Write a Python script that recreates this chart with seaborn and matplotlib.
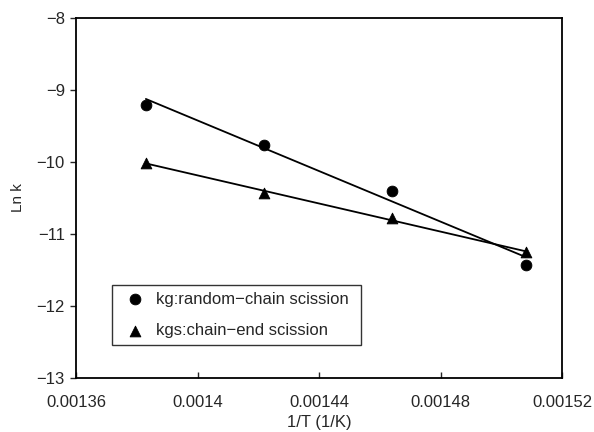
import matplotlib
matplotlib.use("Agg")
import matplotlib.pyplot as plt
import seaborn as sns
import numpy as np

inv_T = [0.001383, 0.001422, 0.001464, 0.001508]
ln_kg = [-9.21, -9.76, -10.40, -11.43]
ln_kgs = [-10.01, -10.43, -10.78, -11.25]
label_kg = "kg:random\u2212chain scission"
label_kgs = "kgs:chain\u2212end scission"
xticks = [0.00136, 0.0014, 0.00144, 0.00148, 0.00152]
xticklabels = ["0.00136", "0.0014", "0.00144", "0.00148", "0.00152"]
yticks = [-13, -12, -11, -10, -9, -8]

sns.set_style("white")
plt.rcParams['font.family'] = ['Liberation Sans', 'DejaVu Sans']

fig = plt.figure(figsize=(5.94, 4.32), dpi=100)
ax = fig.add_axes([76/594, 1 - 378/432, (562-76)/594, (378-18)/432])

for y, mk, lab in [(ln_kg, 'o', label_kg), (ln_kgs, '^', label_kgs)]:
    sns.regplot(x=np.array(inv_T), y=np.array(y), ax=ax, ci=None, truncate=True,
                scatter=False, line_kws=dict(color='black', lw=1.3))
    sns.scatterplot(x=inv_T, y=y, ax=ax, marker=mk, s=60, color='black',
                    edgecolor='black', label=lab)

ax.set_xlim(0.00136, 0.00152)
ax.set_ylim(-13, -8)
ax.set_xticks(xticks)
ax.set_xticklabels(xticklabels)
ax.set_yticks(yticks)
ax.set_yticklabels([f"\u2212{abs(v)}" for v in yticks])
ax.tick_params(axis='x', direction='in', length=4, width=1, labelsize=12, pad=12)
ax.tick_params(axis='y', direction='out', length=4, width=1, labelsize=12, pad=4)
ax.tick_params(left=True, bottom=True)
for s in ax.spines.values():
    s.set_color('black')
    s.set_linewidth(1.3)
ax.set_xlabel("1/T (1/K)", fontsize=12, labelpad=4)
ax.set_ylabel("Ln k", fontsize=11, labelpad=8)

leg = ax.legend(loc='lower left', bbox_to_anchor=((112-76)/486, (378-345)/360, (361-112)/486, (345-284)/360),
                mode='expand', borderaxespad=0, fontsize=12, frameon=True, fancybox=False,
                edgecolor='black', handletextpad=0.25, borderpad=0.4, labelspacing=1.0,
                handlelength=2.0)
leg.get_frame().set_linewidth(1.0)

fig.savefig("out.png", dpi=100)
